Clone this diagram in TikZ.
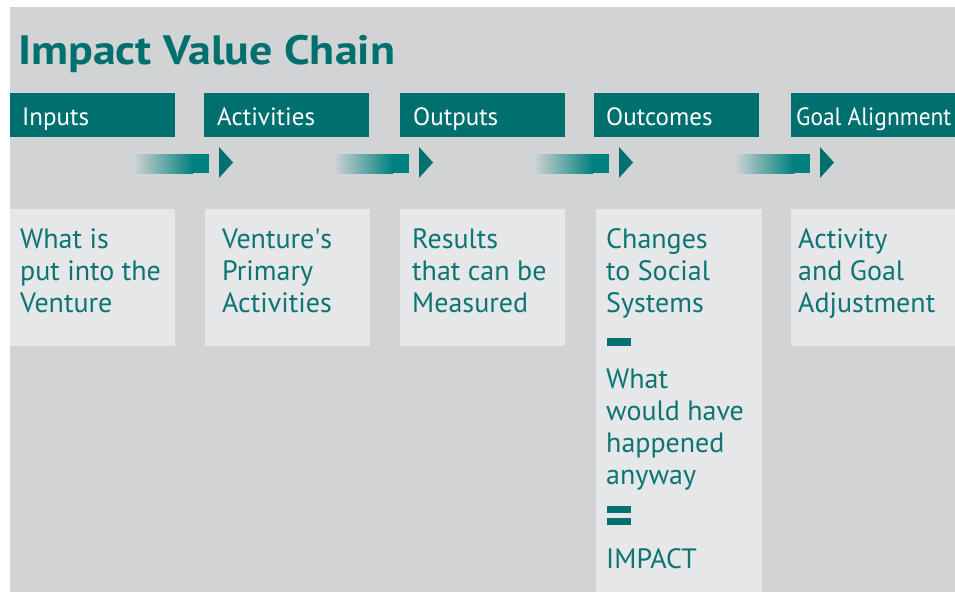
\documentclass[tikz,border=0pt]{standalone}
\usepackage{fontspec}
\setmainfont{PT Sans}
\newfontfamily\plainf{PT Sans}
\definecolor{bgc}{HTML}{D2D3D4}
\definecolor{boxc}{HTML}{E6E7E8}
\definecolor{teal1}{HTML}{00706F}
\definecolor{teal2}{HTML}{00807F}
\definecolor{txt}{HTML}{0C7473}
\tikzset{
  hdr/.style={fill=teal1},
  hdrtext/.style={anchor=base west, inner sep=0pt, text=white, font=\fontsize{25}{28}\selectfont},
  lbox/.style={fill=boxc},
  body/.style={anchor=base west, inner sep=0pt, text=txt, font=\fontsize{28}{32}\selectfont},
  tri/.style={fill=teal1},
}
\newcommand{\lines}[1]{\vtop{\baselineskip=32pt\halign{##\hfil\cr#1\crcr}}}
\begin{document}
\begin{tikzpicture}[x=1pt,y=-1pt]
\useasboundingbox (0,0) rectangle (955,592);
\fill[white] (0,0) rectangle (955,592);
\fill[bgc] (10,7) rectangle (955,592);
% title
\node[anchor=base west, inner sep=0pt, text=teal1, font=\fontsize{41}{44}\selectfont\bfseries] (title) at (18,64) {\scalebox{1.12}[1]{Impact Value Chain}};
% headers
\fill[hdr] (10,93) rectangle (175,137);
\fill[hdr] (204,93) rectangle (369,137);
\fill[hdr] (400,93) rectangle (565,137);
\fill[hdr] (594,93) rectangle (759,137);
\fill[hdr] (791,93) rectangle (955,137);
\node[hdrtext] (h1) at (22,125) {Inputs};
\node[hdrtext] (h2) at (217,125) {Activities};
\node[hdrtext] (h3) at (413,125) {Outputs};
\node[hdrtext] (h4) at (606,125) {Outcomes};
\node[hdrtext] (h5) at (796,125) {\scalebox{0.935}[1]{Goal Alignment}};
% arrows
\foreach \x in {0,200,400,601}{
  \shade[left color=bgc, right color=teal2] (133+\x,154) rectangle (193+\x,173);
  \fill[teal2] (192.5+\x,154) rectangle (209+\x,173);
  \fill[tri] (219+\x,147) -- (233+\x,162.5) -- (219+\x,178) -- cycle;
}
% lower boxes
\fill[lbox] (10,209) rectangle (175,346);
\fill[lbox] (205,209) rectangle (370,346);
\fill[lbox] (400,209) rectangle (565,346);
\fill[lbox] (596,209) rectangle (762,592);
\fill[lbox] (791,209) rectangle (955,346);
\node[body] (b1) at (20,248) {\lines{What is\cr put into the\cr Venture}};
\node[body] (b2) at (222,248) {\lines{Venture{\plainf '}s\cr Primary\cr Activities}};
\node[body] (b3) at (412,248) {\lines{Results\cr that can be\cr Measured}};
\node[body] (b4) at (606,248) {\lines{Changes\cr to Social\cr Systems}};
\node[body] (b5) at (798,248) {\lines{Activity\cr and Goal\cr Adjustment}};
\fill[teal1] (607,338) rectangle (631,346);
\node[body] (b6) at (606,388) {\lines{What\cr would have\cr happened\cr anyway}};
\fill[teal1] (607,506) rectangle (631,513);
\fill[teal1] (607,518) rectangle (631,525);
\node[body] (b7) at (606,568) {IMPACT};
\end{tikzpicture}
\end{document}
